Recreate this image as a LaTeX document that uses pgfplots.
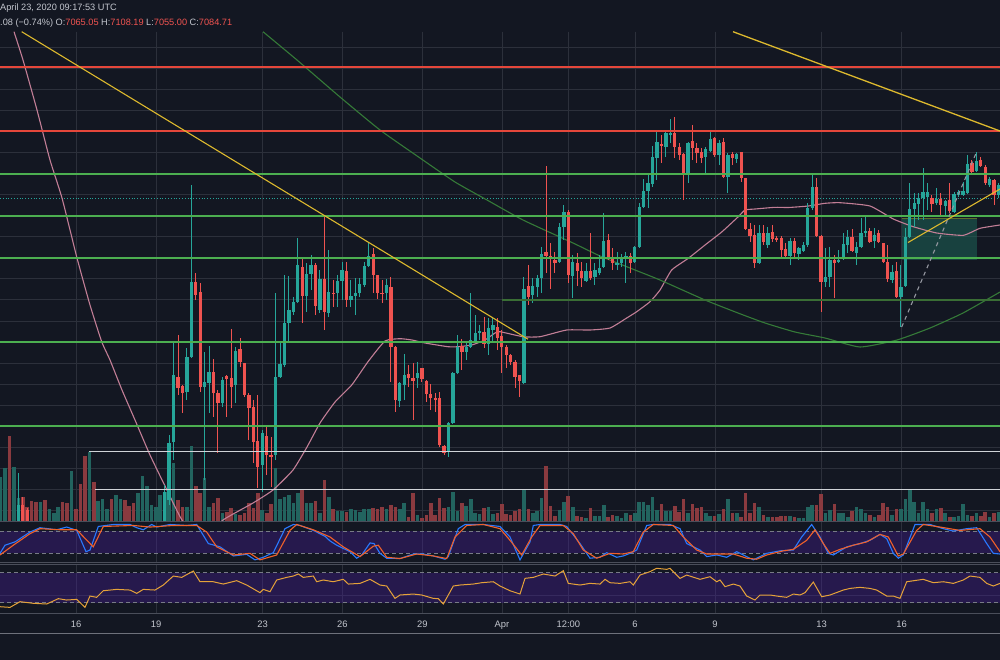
\documentclass[border=0pt]{standalone}
\usepackage{fontspec}
\setmainfont{Liberation Sans}
\usepackage{pgfplots}
\usepackage{pgfplotstable}
\pgfplotsset{compat=1.18}
\definecolor{bg}{HTML}{131722}
\definecolor{gridc}{HTML}{2C303B}
\definecolor{sepc}{HTML}{4A4E5A}
\definecolor{upc}{HTML}{26A69A}
\definecolor{dnc}{HTML}{EF5350}
\definecolor{volup}{HTML}{22645F}
\definecolor{voldn}{HTML}{8A3A3F}
\definecolor{pinkma}{HTML}{C27E96}
\definecolor{greenma}{HTML}{357A38}
\definecolor{yel}{HTML}{DDB92E}
\definecolor{lvred}{HTML}{E5473B}
\definecolor{lvgreen}{RGB}{76,175,80}
\definecolor{lvdkgreen}{HTML}{3A6E35}
\definecolor{lvwhite}{HTML}{D0D3D8}
\definecolor{kc}{HTML}{2979FF}
\definecolor{dc}{HTML}{F0602A}
\definecolor{rsic}{HTML}{E5A23A}
\definecolor{bandc}{HTML}{4A1FA0}
\definecolor{dashc}{HTML}{787B86}
\definecolor{txt}{HTML}{C3C6CE}
\definecolor{boxc}{HTML}{1E6B5C}
\definecolor{olive}{HTML}{5F6E2A}
\definecolor{dashgray}{HTML}{9598A1}

\pgfplotsset{
  pane/.style={scale only axis, width=1000pt, xmin=0, xmax=1000,
      axis line style={draw=none}, xtick=\empty, ytick=\empty},
  gridl/.style={forget plot, draw=gridc, line width=0.9pt},
  wick/.style={forget plot, draw=none, mark=none,
      error bars/.cd, y dir=both, y explicit, error mark=none,
      error bar style={draw=#1, line width=1pt}},
  body/.style={forget plot, draw=none, mark=none,
      error bars/.cd, y dir=both, y explicit, error mark=none,
      error bar style={draw=#1, line width=3.3pt}},
  vol/.style={forget plot, draw=none, mark=none,
      error bars/.cd, y dir=plus, y explicit, error mark=none,
      error bar style={draw=#1, line width=3.6pt}},
  level/.style={forget plot, draw=#1, line width=1.7pt},
}

% candles in pixel rows: k = 4h candle index from Mar 16 00:00; o h l c
\pgfplotstableread{
k o h l c
-13 540 473 540 505
20 540 485 540 492
21 500 435 505 443
22 442 342 460 375
25 392 348 400 357
26 357 185 358 282
29 387 352 480 382
30 383 346 413 372
33 403 377 407 380
36 385 347 403 351
42 465 430 492 433
45 455 293 460 377
46 377 342 378 364
47 365 275 367 323
48 323 276 342 310
49 312 297 315 302
50 302 238 303 265
52 296 263 312 274
53 274 255 290 265
55 310 270 313 279
57 313 250 317 292
59 293 275 307 281
60 281 262 300 270
62 300 280 307 296
63 296 278 315 293
64 293 278 297 284
65 285 262 287 266
66 266 243 267 256
70 293 279 300 285
73 401 382 407 383
74 385 354 400 375
77 378 362 388 373
84 452 422 457 423
85 423 372 424 373
86 373 335 374 347
88 352 342 360 347
89 347 293 347.5 340
90 342 315 343 333
91 333 325 340 331
93 344 318 355 328
94 330 318 343 325
101 383 277 384 289
103 295 278 303 286
104 287 275 297 278
105 278 247 293 254
109 262 223 263 227
110 227 205 240 212
112 276 255 298 262
115 281 263 282 271
117 277 263 285 270
118 273 255 275 268
119 267 213 267.5 241
122 265 252 270 263
123 263 254 267 259
124 258 252 283 256
126 262 246 263 247
127 247 203 248 207
128 207 179 208 191
129 191 175 208 183
130 184 146 187 157
131 158 132 180 142
133 147 130 157 133
134 135 119 143 133
138 173 142 183 142.5
142 157 147 173 149
143 151 132 152 139
145 155 140 165 143
147 177 153 193 155
149 159 153 163 154
154 263 225 263.5 233
156 245 227 248 233
161 256 238 265 241
163 254 247 260 248
164 251 242 252 245
165 245 203 247 208
166 208 173 210 187
169 282 248 287 277
170 277 247 287 260
172 262 250 263 260
173 259 233 260 244
174 245 230 253 237
176 253 242 265 247
177 247 218 248 233
178 233 217 237 231
180 241 228 248 235
184 280 265 283 272
186 297 265 327 287
187 286 228 287 237
188 237 183 238 209
189 209 193 227 203
190 204 193 220 198
191 198 168 220 192
192 197 183 210 192
194 203 188 205 199
196 206 200 215 201
198 212 192 213 194
199 195 190 197 192
200 195 182 195.5 191
201 193 155 193.5 164
203 171 152 172 161
206 185 177 187 179
208 195 183 198 185
}\upcandles

\pgfplotstableread{
k o h l c
-12 505 497 540 540
-11 510 508 540 540
23 377 335 395 388
24 386 385 413 393
27 282 273 300 295
28 292 283 392 387
31 372 359 417 393
32 393 390 453 403
34 376 375 417 379
35 378 329 408 387
37 349 338 367 362
38 363 363 397 395
39 395 393 440 408
40 407 400 463 442
41 441 395 488 467
43 436 427 475 455
44 455 437 487 456.5
51 267 259 323 296
54 265 263 315 306
56 279 217 330 312
58 292.5 280 307 294
61 271 262 307 300
67 254 248 293 275
68 275 275 299 293
69 292.5 280 303 294
71 287 277 382 347
72 347 346 412 400
75 374 365 387 378
76 378 363 420 381
78 368 368 382 379
79 381 380 402 394
80 394 384 410 398
81 398 393 412 400
82 398 392 447 445
83 446 445 455 453
87 346 339 370 352
92 332 317 348 344
95 327 318 350 338
96 336 330 373 347
97 347 345 368 355
98 355 354 365 362
99 362 360 388 377
100 375 375 397 381
102 286 265 305 297
106 252 166 273 256
107 256 243 289 257.5
108 260 252 273 263
111 212 210 283 275
113 263 253 286 271
114 271 262 287 278
116 271 233 280 278
120 240 234 260 258
121 258 248 270 263
125 256 253 273 263
132 144 135 163 146
135 133 117 158 147
136 147 143 160 155
137 154 153 200 173
139 141 125 160 148
140 148 143 163 153
141 152 148 163 158
144 138 137 157 155
146 142 138 178 177
148 154 152 165 158
150 152 152 182 178
151 178 178 230 229
152 229 223 242 236
153 235 225 268 263
155 233 225 245 242
157 232 225 242 239
158 238 236 242 240
159 238 236 257 250
160 249 243 257 256
162 241 238 257 253
167 187 178 237 236
168 236 235 312 282
171 260 255 298 263
175 237 229 252 251
179 231 228 243 242
181 233 230 243 242
182 243 243 263 262
183 262 245 282 279
185 271 262 298 297
193 198 195 212 204
195 199 193 217 205
197 200 183 213 211
202 163 160 173 172
204 160 157 167 166
205 167 165 185 183
207 180 179 205 195
}\dncandles

% volume bar tops (pixel rows)
\pgfplotstableread{
k v
-17 477
-16 468
-14 467
-13 498
-8 502
-6 509
-5 513
-4 507
-1 471
3 452
5 501
6 499
7 509
9 495
10 499
14 493
15 476
16 486
17 505
18 507
19 495
20 492
21 463
22 463
25 507
26 446
29 478
30 507
33 513
36 514
42 510
45 468
46 499
47 497
48 495
49 503
50 493
52 503
53 503
55 513
57 497
59 511
60 511
62 509
63 510
64 512
65 509
66 509
70 509
73 509
74 503
77 515
84 507
85 492
86 511
88 506
89 499
90 513
91 514
93 507
94 514
101 489
103 513
104 511
105 498
109 510
110 502
112 507
115 518
117 516
118 516
119 505
122 516
123 518
124 513
126 513
127 502
128 502
129 505
130 497
131 510
133 511
134 511
138 513
142 513
143 516
145 514
147 499
149 513
154 507
156 517
161 516
163 518
164 518
165 507
166 505
169 513
170 510
172 513
173 513
174 517
176 507
177 509
178 513
180 517
184 515
186 509
187 499
188 489
189 502
190 513
191 502
192 509
194 509
196 513
198 517
199 516
200 504
201 515
203 513
206 517
208 512
}\volup

\pgfplotstableread{
k v
-15 436
-12 497
-11 507
-10 501
-9 502
-7 500
-3 502
-2 503
0 509
1 484
2 456
4 482
8 499
11 500
12 506
13 503
23 500
24 507
27 486
28 493
31 503
32 498
34 512
35 508
37 515
38 513
39 503
40 508
41 493
43 513
44 504
51 489
54 501
56 480
58 509
61 512
67 508
68 509
69 507
71 505
72 507
75 517
76 493
78 518
79 515
80 503
81 515
82 498
83 508
87 503
92 508
95 513
96 504
97 514
98 515
99 511
100 509
102 509
106 466
107 506
108 516
111 496
113 516
114 517
116 508
120 517
121 515
125 515
132 504
135 506
136 512
137 499
139 504
140 508
141 507
144 516
146 509
148 513
150 517
151 493
152 513
153 503
155 515
157 517
158 517
159 516
160 516
162 517
167 505
168 494
171 504
175 511
179 515
181 515
182 503
183 507
185 509
193 513
195 508
197 517
202 516
204 516
205 512
207 513
}\voldn

\begin{document}
\begin{tikzpicture}
\useasboundingbox (0,0) rectangle (1000pt,-660pt);
\fill[bg] (0,0) rectangle (1000pt,-660pt);

% ---------------- main pane ----------------
\begin{axis}[pane, at={(0pt,-31.7pt)}, anchor=north west, height=489.3pt,
  ymin=31.7, ymax=521, y dir=reverse]
\pgfplotsinvokeforeach{76,156,262.7,342.3,422.3,502,568.3,635,715,821.7,901.7}{
  \addplot[gridl] coordinates {(#1,31.7) (#1,521)};}
\pgfplotsinvokeforeach{47.3,68.35,89.4,110.45,131.5,152.55,194.65,236.75,278.85,299.9,320.95,363.05,384.1,405.15,447.25,468.3,489.35,510.4}{
  \addplot[gridl] coordinates {(0,#1) (1000,#1)};}
% volume
\addplot[vol=volup] table[x expr=76+4.435*\thisrow{k}, y=v, y error expr=530-\thisrow{v}] {\volup};
\addplot[vol=voldn] table[x expr=76+4.435*\thisrow{k}, y=v, y error expr=530-\thisrow{v}] {\voldn};
% green zone
\addplot[forget plot, draw=none, fill=boxc, fill opacity=0.5] coordinates {(902,218.3) (976.7,218.3) (976.7,260) (902,260)} -- cycle;
\addplot[forget plot, draw=olive, line width=1.2pt] coordinates {(902,218.3) (976.7,218.3)};
\addplot[forget plot, draw=upc, line width=0.8pt, dotted] coordinates {(0,198.3) (1000,198.3)};
% moving averages
\addplot[forget plot, draw=pinkma, line width=1.1pt, smooth, tension=0.3] coordinates {
(14,31.7) (23,60) (37,110) (50,160) (62,198) (77,258) (90,305) (101.7,341.7) (110,360) (122,390)
(135,420) (150,455) (166,488) (182,520) (202,540) (223,520) (253,503) (273,490) (293,470) (307,447) (320,423)
(335,402) (351.7,385) (368,361.7) (385,341) (400,338.7) (412,340) (425,343) (448,346.7)
(458,346.7) (471.7,345) (485,340) (495,333) (500,331.7) (523,336.7) (540,336.7) (566.7,330)
(590,330) (610,328) (626.7,318) (636.7,311.7) (650,301.7) (660,290) (671.7,270) (688.3,258.3)
(705,245) (721.7,232) (738.3,216.7) (745,210) (755,209) (775,207.3) (788.3,207.5) (808.3,206)
(825,203.3) (840,202.7) (870,206) (893.3,219) (913.3,226.7) (936.7,233) (963.3,235.3)
(980,228.3) (1000,225)};
\addplot[forget plot, draw=greenma, line width=1.1pt, smooth, tension=0.3] coordinates {
(263,31.7) (297,60) (340,97) (380,130) (420,158) (455,182) (487,200) (523,220) (573,243)
(600,256) (630,268) (660,280) (705,300) (738,313) (765,323) (795,332) (825,338) (860,347)
(897,340) (930,328) (963,313) (1000,292)};
% candles: wicks then bodies
\addplot[wick=upc] table[x expr=76+4.435*\thisrow{k}, y expr=(\thisrow{h}+\thisrow{l})/2, y error expr=(\thisrow{l}-\thisrow{h})/2] {\upcandles};
\addplot[wick=dnc] table[x expr=76+4.435*\thisrow{k}, y expr=(\thisrow{h}+\thisrow{l})/2, y error expr=(\thisrow{l}-\thisrow{h})/2] {\dncandles};
\addplot[body=upc] table[x expr=76+4.435*\thisrow{k}, y expr=(\thisrow{o}+\thisrow{c})/2, y error expr=(\thisrow{o}-\thisrow{c})/2] {\upcandles};
\addplot[body=dnc] table[x expr=76+4.435*\thisrow{k}, y expr=(\thisrow{o}+\thisrow{c})/2, y error expr=(\thisrow{c}-\thisrow{o})/2] {\dncandles};
% horizontal levels (drawings, on top)
\addplot[level=lvred] coordinates {(0,67.3) (1000,67.3)};
\addplot[level=lvred] coordinates {(0,131) (1000,131)};
\addplot[level=lvgreen] coordinates {(0,173.9) (1000,173.9)};
\addplot[level=lvgreen] coordinates {(0,215.7) (1000,215.7)};
\addplot[level=lvgreen] coordinates {(0,257.9) (1000,257.9)};
\addplot[level=lvgreen] coordinates {(0,341.7) (1000,341.7)};
\addplot[level=lvgreen] coordinates {(0,426.2) (1000,426.2)};
\addplot[forget plot, draw=lvdkgreen, line width=1.5pt] coordinates {(502,300) (1000,300)};
\addplot[forget plot, draw=lvwhite, line width=1.2pt] coordinates {(89,451.3) (1000,451.3)};
\addplot[forget plot, draw=lvwhite, line width=1.2pt] coordinates {(95,489.3) (1000,489.3)};
% trend lines
\addplot[forget plot, draw=yel, line width=1.1pt] coordinates {(21.7,31.7) (528,339.2)};
\addplot[forget plot, draw=yel, line width=1.3pt] coordinates {(733,31.7) (1000,131)};
\addplot[forget plot, draw=yel, line width=1.1pt] coordinates {(908,242.5) (1000,189)};
\addplot[forget plot, draw=dashgray, line width=1.1pt, dash pattern=on 4pt off 4pt] coordinates {(901.7,327) (976.7,151.7)};
\end{axis}

% ---------------- stochastic RSI pane ----------------
\begin{axis}[pane, at={(0pt,-521.5pt)}, anchor=north west, height=41.5pt,
  ymin=-5.9, ymax=107]
\pgfplotsinvokeforeach{76,156,262.7,342.3,422.3,502,568.3,635,715,821.7,901.7}{
  \addplot[gridl] coordinates {(#1,-5.9) (#1,107)};}
\addplot[draw=none, fill=bandc, fill opacity=0.35] coordinates {(0,20) (1000,20) (1000,80) (0,80)} -- cycle;
\addplot[dashc, line width=0.9pt, dash pattern=on 4pt off 3pt] coordinates {(0,80) (1000,80)};
\addplot[dashc, line width=0.9pt, dash pattern=on 4pt off 3pt] coordinates {(0,20) (1000,20)};
\addplot[kc, line width=1.1pt] coordinates {
(0,20.4) (5,42.5) (15,51.5) (30,78.3) (40,90.1) (56.7,84.5) (66.7,91.9) (76.7,82.8) (86,24.9)
(90,29.4) (98.3,93.5) (113.3,98.9) (130,98.9) (136.7,90.1) (143.3,84.5) (151.7,98.9) (156.7,91.9)
(170,98.9) (186.7,96.2) (196.7,98.9) (208.3,47.0) (220,38.0) (233.3,13.3) (246.7,17.7) (255,2.6)
(263.3,9.7) (273.3,22.2) (285,87.5) (293.3,98.9) (300,96.2) (313.3,82.8) (325,66.8) (330,54.2)
(336.7,42.5) (350,24.9) (356.7,7.1) (361.7,15.9) (370,48.7) (374,47.0) (380,20.4) (386.7,7.1)
(400,6.2) (413.3,18.6) (423.3,18.6) (433.3,13.3) (445,4.4) (448.3,11.5) (458.3,87.5) (465,98.9)
(483.3,98.9) (500,93.5) (510,64.9) (520,2.6) (530,51.5) (533.3,96.2) (540,98.9) (560,98.9)
(566.7,93.5) (580,47.0) (590,7.1) (600,9.7) (606.7,22.2) (616.7,9.7) (623.3,13.3) (630,20.4)
(636.7,29.4) (646.7,96.2) (653.3,98.9) (670,98.9) (680,87.5) (686.7,47.0) (700,29.4) (706.7,11.5)
(716.7,15.9) (726.7,9.7) (736.7,24.9) (743.3,15.9) (753.3,2.6) (766.7,20.4) (780,27.2) (793.3,29.4)
(801.7,64.9) (811.7,98.9) (820,64.9) (828.3,20.4) (833.3,15.9) (846.7,38.0) (860,47.0) (870,55.9)
(880,72.0) (886.7,60.3) (893.3,20.4) (898.3,7.1) (903.3,15.9) (915,98.9) (930,98.9) (943.3,87.5)
(953.3,81.0) (966.7,87.5) (976.7,90.1) (986.7,47.0) (993.3,20.4) (1000,18.6)};
\addplot[dc, line width=1.1pt] coordinates {
(0,15.9) (13.3,42.5) (30,73.9) (40,87.5) (60,84.5) (76.7,84.5) (93.3,38.0) (103.3,93.5) (133.3,96.2)
(150,91.9) (173.3,96.2) (196.7,96.2) (206.7,78.3) (216.7,38.0) (233.3,15.9) (250,20.4) (260,2.6)
(276.7,15.9) (290,82.8) (296.7,98.9) (313.3,84.5) (330,64.9) (343.3,38.0) (360,11.5) (373.3,39.8)
(378.3,42.5) (386.7,9.7) (400,6.2) (416.7,18.6) (433.3,13.3) (446.7,6.2) (455,64.9) (466.7,96.2)
(483.3,98.9) (500,87.5) (510,55.9) (521.7,15.9) (531.7,64.9) (540,96.2) (563.3,96.2) (573.3,73.9)
(583.3,29.4) (596.7,7.1) (610,20.4) (623.3,18.6) (633.3,24.9) (643.3,78.3) (653.3,98.9) (673.3,96.2)
(683.3,64.9) (696.7,29.4) (706.7,18.6) (720,18.6) (733.3,18.6) (746.7,7.1) (756.7,4.4) (766.7,15.9)
(783.3,27.2) (793.3,31.2) (806.7,55.9) (815,84.5) (823.3,47.0) (830,20.4) (840,31.2) (853.3,42.5)
(866.7,51.5) (880,72.0) (888.3,64.9) (898.3,13.3) (903.3,18.6) (916.7,82.8) (923.3,98.9) (940,91.9)
(960,82.8) (980,87.5) (990,64.9) (1000,24.9)};
\end{axis}

% ---------------- RSI pane ----------------
\begin{axis}[pane, at={(0pt,-563.5pt)}, anchor=north west, height=49.8pt,
  ymin=15.9, ymax=82.3]
\pgfplotsinvokeforeach{76,156,262.7,342.3,422.3,502,568.3,635,715,821.7,901.7}{
  \addplot[gridl] coordinates {(#1,15.9) (#1,82.3)};}
\addplot[gridl] coordinates {(0,39.9) (1000,39.9)};
\addplot[draw=none, fill=bandc, fill opacity=0.35] coordinates {(0,30) (1000,30) (1000,70) (0,70)} -- cycle;
\addplot[dashc, line width=0.9pt, dash pattern=on 4pt off 3pt] coordinates {(0,70) (1000,70)};
\addplot[dashc, line width=0.9pt, dash pattern=on 4pt off 3pt] coordinates {(0,30) (1000,30)};
\addplot[rsic, line width=1pt] coordinates {
(0,24.7) (10,23.8) (20,31.4) (33.3,29.2) (46.7,28.3) (58.3,35.4) (66.7,33.6) (76.7,34.5) (85,23.8)
(90,38.9) (96.7,37.2) (103.3,46.0) (116.7,47.8) (130,46.9) (136.7,42.5) (143.3,47.8) (155,46.9)
(163.3,53.6) (173.3,65.6) (181.7,63.8) (193.3,72.3) (200,58.0) (213.3,58.0) (223.3,54.9) (236.7,59.4)
(246.7,53.6) (260,43.4) (263.3,47.8) (270,44.7) (276.7,60.3) (286.7,63.8) (293.3,65.6) (298.3,68.3)
(303.3,63.8) (313.3,65.6) (316.7,58.0) (323.3,60.3) (333.3,58.0) (343.3,61.2) (348.3,54.9) (360,55.8)
(370,61.2) (380,53.6) (386.7,52.3) (395,35.8) (400,40.3) (413.3,41.6) (421.7,40.3) (433.3,35.8)
(438.3,35.4) (443.3,28.3) (453.3,52.3) (460,53.6) (473.3,54.9) (481.7,56.7) (493.3,58.0) (500,52.3)
(510,46.0) (520,41.6) (525,62.5) (533.3,63.8) (543.3,68.3) (555,65.6) (563.3,72.7) (568.3,55.8)
(580,53.6) (590,55.8) (600,54.9) (605,61.2) (610,56.7) (620,55.8) (630,58.0) (633.3,53.6) (640,66.9)
(650,71.4) (656.7,75.9) (666.7,74.5) (670,75.9) (680,62.5) (686.7,66.9) (700,61.2) (710,64.7)
(716.7,58.0) (720,60.3) (725,51.4) (733.3,54.9) (740,52.3) (746.7,38.9) (755,33.6) (760,40.3)
(770,40.3) (776.7,38.9) (786.7,37.2) (793.3,41.6) (800,40.3) (805,43.4) (813.3,57.6) (821.7,38.0)
(830,40.3) (843.3,46.9) (850,49.1) (860,50.5) (870,49.1) (876.7,46.9) (886.7,38.9) (893.3,38.9)
(900,35.8) (906.7,58.0) (923.3,61.2) (933.3,56.7) (943.3,58.0) (953.3,55.8) (963.3,60.3) (970,65.6)
(980,63.8) (986.7,55.8) (993.3,52.3) (1000,55.8)};
\end{axis}

% pane separators
\draw[sepc, line width=1pt] (0,-521.5pt) -- (1000pt,-521.5pt);
\draw[sepc, line width=1pt] (0,-562pt) -- (1000pt,-562pt);
\draw[sepc, line width=1pt] (0,-564pt) -- (1000pt,-564pt);
\draw[sepc, line width=1pt] (0,-613.3pt) -- (1000pt,-613.3pt);
\draw[sepc!80!white, line width=1.3pt] (0,-633.3pt) -- (1000pt,-633.3pt);

% header
\node[anchor=base west, inner sep=0pt, text=txt, font=\fontsize{9.2pt}{11pt}\selectfont] at (0pt,-10.8pt) {April 23, 2020 09:17:53 UTC};
\node[anchor=base west, inner sep=0pt, text=txt, font=\fontsize{9.2pt}{11pt}\selectfont] at (0pt,-25.3pt)
 {.08 (−0.74\%) O:\textcolor{dnc}{7065.05} H:\textcolor{dnc}{7108.19} L:\textcolor{dnc}{7055.00} C:\textcolor{dnc}{7084.71}};

% time axis labels
\foreach \xx/\lab in {76/16,156/19,262.7/23,342.3/26,422.3/29,502/Apr,568.3/12:00,635/6,715/9,821.7/13,901.7/16}
  \node[anchor=base, inner sep=0pt, text=txt, font=\fontsize{9.4pt}{11pt}\selectfont] at (\xx pt,-627.8pt) {\lab};
\end{tikzpicture}
\end{document}
